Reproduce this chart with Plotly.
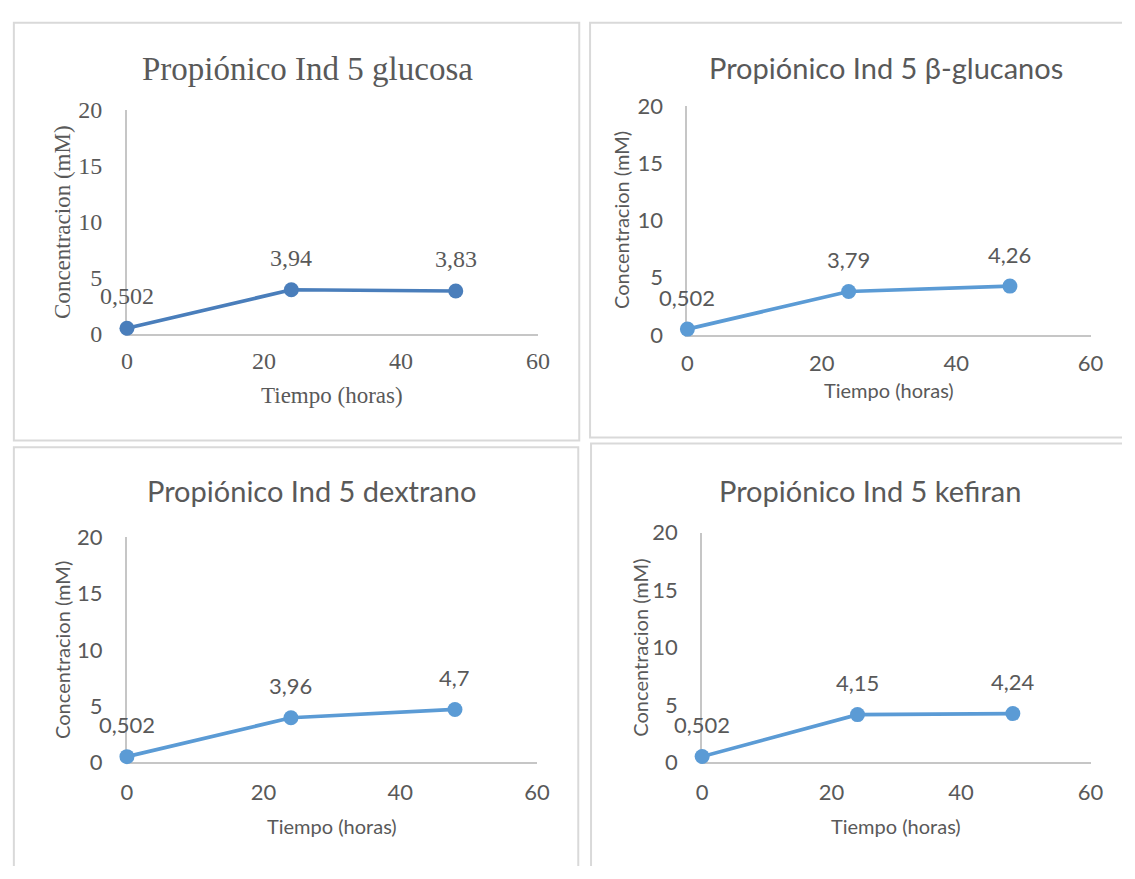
import plotly.graph_objects as go

# Sampling times (hours) shared by every panel
tiempo = [0, 24, 48]

# Propionic acid concentration (mM) per substrate
glucosa = [0.502, 3.94, 3.83]
beta_glucanos = [0.502, 3.79, 4.26]
dextrano = [0.502, 3.96, 4.70]
kefiran = [0.502, 4.15, 4.24]

titulos = [
    "Propiónico Ind 5 glucosa",
    "Propiónico Ind 5 β-glucanos",
    "Propiónico Ind 5 dextrano",
    "Propiónico Ind 5 kefiran",
]
series = [glucosa, beta_glucanos, dextrano, kefiran]

x_ticks = [0, 20, 40, 60]
y_ticks = [0, 5, 10, 15, 20]

W, H = 1135, 879
TXT = "#595959"
AXIS = "#C6C6C6"
BORDER = "#D9D9D9"


def px(x):
    return x / W


def py(y):
    return 1 - y / H


# panel layout in pixels: plot area (left, right, top, bottom), frame outline, style
paneles = [
    dict(area=(123, 541, 99, 330), frame="M8,440 L8,9 L583,9 L583,440 Z",
         color="#4A7EBB", font="Liberation Serif", fs_title=33, fs_tick=24,
         fs_axis=23, xstand=4, title=(307, 57), xtitle_y=394, ytitle_x=58),
    dict(area=(693, 1103, 95, 331), frame="M1135,437 L594,437 L594,9 L1135,9",
         color="#5B9BD5", font="Lato", fs_title=29, fs_tick=22,
         fs_axis=20, xstand=8, title=(895, 55), xtitle_y=388, ytitle_x=626),
    dict(area=(123, 540, 540, 772), frame="M8,879 L8,447 L582,447 L582,879",
         color="#5B9BD5", font="Lato", fs_title=29, fs_tick=22,
         fs_axis=20, xstand=9, title=(311, 492), xtitle_y=838, ytitle_x=57),
    dict(area=(708, 1103, 535, 772), frame="M595,879 L595,443 L1135,443",
         color="#5B9BD5", font="Lato", fs_title=29, fs_tick=22,
         fs_axis=20, xstand=9, title=(879, 492), xtitle_y=838, ytitle_x=645),
]

fig = go.Figure()
layout = dict(
    width=W, height=H,
    margin=dict(l=0, r=0, t=0, b=0),
    paper_bgcolor="white", plot_bgcolor="white",
    showlegend=False, separators=",.",
)
annotations = []
shapes = []


def fmt(v):
    return f"{v:g}".replace(".", ",")


def to_paper_path(path):
    # convert a pixel path into paper coordinates
    out = []
    for tok in path.split():
        cmd = tok[0]
        if cmd in "ML":
            xs, ys = tok[1:].split(",")
            out.append(f"{cmd}{px(float(xs)):.5f},{py(float(ys)):.5f}")
        else:
            out.append(tok)
    return " ".join(out)


for i, (p, vals, titulo) in enumerate(zip(paneles, series, titulos)):
    n = "" if i == 0 else str(i + 1)
    xa, ya = "x" + n, "y" + n
    l, r, t, b = p["area"]
    fam = p["font"]

    fig.add_trace(go.Scatter(
        x=tiempo, y=vals, xaxis=xa, yaxis=ya, mode="lines+markers",
        line=dict(color=p["color"], width=3.7),
        marker=dict(color=p["color"], size=15),
        cliponaxis=False, hoverinfo="skip",
    ))

    axis_common = dict(
        showgrid=False, zeroline=False, showline=True, linecolor=AXIS,
        linewidth=2, ticks="", layer="below traces", fixedrange=True,
        tickfont=dict(family=fam, size=p["fs_tick"], color=TXT),
    )
    layout["xaxis" + n] = dict(
        axis_common, domain=[px(l), px(r)], anchor=ya, range=[0, 60],
        tickmode="array", tickvals=x_ticks, ticklabelstandoff=p["xstand"],
    )
    layout["yaxis" + n] = dict(
        axis_common, domain=[py(b), py(t)], anchor=xa, range=[0, 20],
        tickmode="array", tickvals=y_ticks, ticklabelstandoff=18,
    )

    # value labels above each point
    for xv, yv in zip(tiempo, vals):
        annotations.append(dict(
            x=xv, y=yv, xref=xa, yref=ya, text=fmt(yv), showarrow=False,
            yanchor="middle", xanchor="center", yshift=32,
            font=dict(family=fam, size=p["fs_tick"], color=TXT),
        ))

    # chart title and axis titles
    annotations.append(dict(
        x=px(p["title"][0]), y=py(p["title"][1]), xref="paper", yref="paper",
        text=titulo, showarrow=False, xanchor="center", yanchor="middle",
        font=dict(family=fam, size=p["fs_title"], color=TXT),
    ))
    annotations.append(dict(
        x=px((l + r) / 2), y=py(p["xtitle_y"]), xref="paper", yref="paper",
        text="Tiempo (horas)", showarrow=False, xanchor="center", yanchor="middle",
        font=dict(family=fam, size=p["fs_axis"], color=TXT),
    ))
    annotations.append(dict(
        x=px(p["ytitle_x"]), y=py((t + b) / 2), xref="paper", yref="paper",
        text="Concentracion (mM)", showarrow=False, textangle=-90,
        xanchor="center", yanchor="middle",
        font=dict(family=fam, size=p["fs_axis"], color=TXT),
    ))

    shapes.append(dict(
        type="path", xref="paper", yref="paper", path=to_paper_path(p["frame"]),
        line=dict(color=BORDER, width=2), layer="below",
    ))

layout["annotations"] = annotations
layout["shapes"] = shapes
fig.update_layout(**layout)
fig.write_html("out.html")
